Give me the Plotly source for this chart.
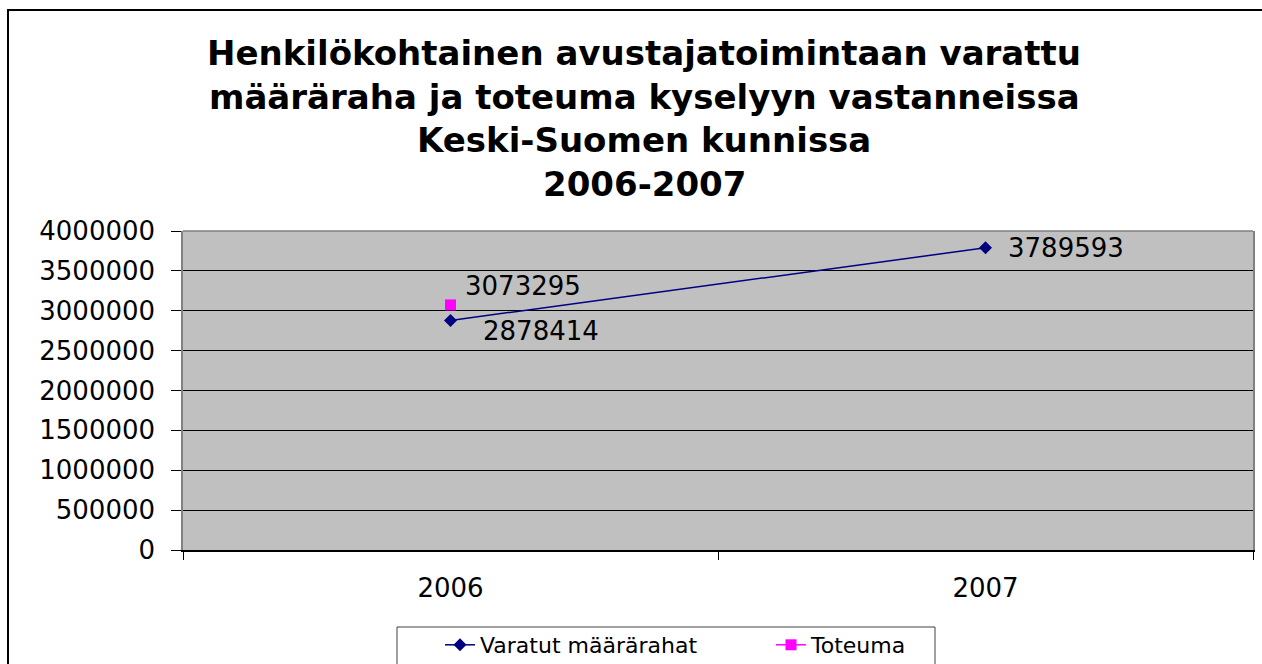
import plotly.graph_objects as go

# ---- data ----
categories = ["2006", "2007"]
varatut = [2878414, 3789593]
toteuma = [3073295, None]
series_names = ["Varatut määrärahat", "Toteuma"]
title_lines = [
    "Henkilökohtainen avustajatoimintaan varattu",
    "määräraha ja toteuma kyselyyn vastanneissa",
    "Keski-Suomen kunnissa",
    "2006-2007",
]
y_ticks = [0, 500000, 1000000, 1500000, 2000000, 2500000, 3000000, 3500000, 4000000]

# ---- layout geometry (pixels) ----
W, H = 1262, 664
L, R, T, B = 183, 1253, 231, 550
pw, ph = R - L, B - T


def px_x(x):
    return (x - L) / pw


def px_y(y):
    return (B - y) / ph


FONT = "DejaVu Sans"
NAVY = "#000080"
PINK = "#FF00FF"

fig = go.Figure()
fig.add_trace(go.Scatter(
    x=categories, y=varatut, name=series_names[0], mode="lines+markers",
    line=dict(color=NAVY, width=1.5),
    marker=dict(symbol="diamond", size=10, color=NAVY),
))
fig.add_trace(go.Scatter(
    x=categories, y=toteuma, name=series_names[1], mode="lines+markers",
    line=dict(color=PINK, width=1.5),
    marker=dict(symbol="square", size=11, color=PINK),
))

# data labels (offsets are style, values come from data arrays)
label_offsets = {
    (0, 0): (30, -11),
    (0, 1): (20, 0),
    (1, 0): (12, 19),
}
annotations = []
for si, vals in enumerate([varatut, toteuma]):
    for ci, v in enumerate(vals):
        if v is None:
            continue
        dx, dy = label_offsets.get((si, ci), (10, 0))
        annotations.append(dict(
            x=ci, y=v, xref="x", yref="y", text=str(v),
            showarrow=False, xanchor="left", yanchor="middle",
            xshift=dx, yshift=dy,
            font=dict(family=FONT, size=26, color="black"),
        ))

# title lines
title_centers = [53, 97, 140, 184]
for line, cy in zip(title_lines, title_centers):
    annotations.append(dict(
        x=px_x(644), y=px_y(cy), xref="paper", yref="paper", text="<b>%s</b>" % line,
        showarrow=False, xanchor="center", yanchor="middle",
        font=dict(family=FONT, size=34, color="black"),
    ))

shapes = [
    # outer chart border
    dict(type="rect", xref="paper", yref="paper",
         x0=px_x(8), x1=px_x(1280), y0=px_y(700), y1=px_y(10),
         line=dict(color="black", width=2), layer="above"),
    # gray top edge of plot area
    dict(type="line", xref="paper", yref="paper", x0=0, x1=1, y0=1, y1=1,
         line=dict(color="#808080", width=1.5), layer="above"),
    # legend box
    dict(type="rect", xref="paper", yref="paper",
         x0=px_x(397), x1=px_x(935), y0=px_y(710), y1=px_y(627),
         line=dict(color="#404040", width=1), layer="above"),
]

fig.update_layout(
    width=W, height=H,
    margin=dict(l=L, r=W - R, t=T, b=H - B, pad=0, autoexpand=False),
    paper_bgcolor="white",
    plot_bgcolor="#C0C0C0",
    showlegend=True,
    legend=dict(
        orientation="h", xref="container", yref="container",
        x=440 / W, y=1 - 624 / H, xanchor="left", yanchor="top",
        borderwidth=0, bgcolor="rgba(0,0,0,0)",
        font=dict(family=FONT, size=22, color="black"),
        entrywidth=286, entrywidthmode="pixels",
        itemclick=False,
    ),
    annotations=annotations,
    shapes=shapes,
    xaxis=dict(
        type="category", range=[-0.5, 1.5], tickson="boundaries",
        ticks="outside", ticklen=8, tickcolor="black", tickwidth=1,
        showline=True, linecolor="black", linewidth=1.5,
        showgrid=False, zeroline=False,
        tickfont=dict(family=FONT, size=26, color="black"),
        ticklabelstandoff=14,
    ),
    yaxis=dict(
        range=[0, 4000000], tickvals=y_ticks, tickformat="d",
        ticks="outside", ticklen=10, tickcolor="black", tickwidth=1,
        showline=True, linecolor="#808080", linewidth=1.5, mirror=True,
        showgrid=True, gridcolor="black", gridwidth=1, zeroline=False,
        tickfont=dict(family=FONT, size=26, color="black"),
        ticklabelstandoff=11,
    ),
)

fig.write_html("out.html", config={"displayModeBar": False},
               post_script="document.body.style.margin='0';")
